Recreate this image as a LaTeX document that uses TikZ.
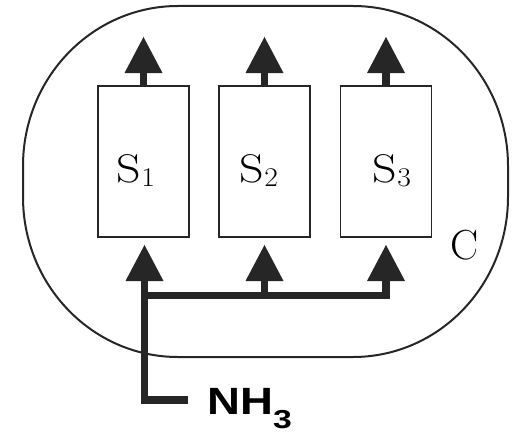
\documentclass[tikz,border=0pt]{standalone}
\usepackage{fontspec}
\newfontfamily\nhfont{Liberation Sans}
\usetikzlibrary{arrows.meta,calc}
\definecolor{ink}{HTML}{262626}
\tikzset{
  box/.style={draw=ink, line width=1.6pt, minimum width=91pt, minimum height=151pt, inner sep=0pt},
  flow/.style={draw=ink, line width=7.5pt, -{Triangle[length=36pt,width=38pt,line width=0pt]}},
  lbl/.style={inner sep=0pt, anchor=base, font=\fontsize{40}{40}\selectfont},
  outline/.style={draw=ink, line width=2pt},
}
\newcommand{\sname}[1]{\scalebox{1.2}[1]{S}\raisebox{-4pt}{\scalebox{1.1}[1]{\fontsize{27}{27}\selectfont #1}}}
\begin{document}
\begin{tikzpicture}[x=1pt,y=-1pt]
\useasboundingbox (0,0) rectangle (516,436);
% outer cell C
\path[outline] (178,6) -- (353,6)
  .. controls (438.6,6) and (508,77.6) .. (508,166) -- (508,197)
  .. controls (508,285.4) and (438.6,357) .. (353,357) -- (178,357)
  .. controls (92.4,357) and (23,285.4) .. (23,197) -- (23,166)
  .. controls (23,77.6) and (92.4,6) .. (178,6) -- cycle;
% boxes
\node[box] (S1) at (143.5,161.5) {};
\node[box] (S2) at (264.5,161.5) {};
\node[box] (S3) at (386,161.5) {};
\node[lbl] (t1) at (136,182) {\sname{1}};
\node[lbl] (t2) at (259,182) {\sname{2}};
\node[lbl] (t3) at (392,182) {\sname{3}};
\node[lbl, font=\fontsize{42}{42}\selectfont] (C) at (464.5,259) {C};
% outputs
\coordinate (o1) at (143.5,37);
\coordinate (o2) at (264.5,37);
\coordinate (o3) at (386,37);
\draw[flow] (S1.north) -- (o1);
\draw[flow] (S2.north) -- (o2);
\draw[flow] (S3.north) -- (o3);
% inputs
\node[inner sep=0pt, anchor=base west, font=\nhfont\bfseries\fontsize{38}{38}\selectfont] (nh) at (207,414)
  {\scalebox{1.2}[1]{NH}\raisebox{-14pt}{\scalebox{1.3}[1]{\fontsize{26}{26}\selectfont 3}}};
\coordinate (feed) at (188,400);
\coordinate (corner) at (144.5,400);
\coordinate (i1) at (144.5,245);
\coordinate (i2) at (264.5,245);
\coordinate (i3) at (386,245);
\coordinate (j1) at (144.5,295.5);
\coordinate (j2) at (264.5,295.5);
\draw[flow] (feed) -- (corner) -- (i1);
\draw[flow] (j1) -| (i3);
\draw[flow] (j2) -- (i2);
\end{tikzpicture}
\end{document}
